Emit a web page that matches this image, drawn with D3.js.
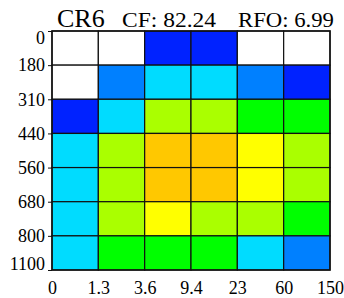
<!DOCTYPE html>
<meta charset="utf-8">
<style>
body { margin: 0; background: #fff; }
text { font-family: "Liberation Serif", "DejaVu Serif", serif; fill: #000; }
.cells rect { stroke: #111; stroke-width: 1.2px; }
</style>
<svg width="344" height="298"></svg>
<script src="https://cdn.jsdelivr.net/npm/d3@7"></script>
<script>

// optical thickness bins (x) and cloud-top pressure bins (y)
var tauLabels = ["0", "1.3", "3.6", "9.4", "23", "60", "150"];
var pcLabels = ["0", "180", "310", "440", "560", "680", "800", "1100"];

// cloud fraction (%) per bin, rows top to bottom
var row0 = [0.1, 0.1, 0.5, 0.5, 0.1, 0.1];
var row1 = [0.1, 1.5, 2.5, 2.5, 1.5, 0.5];
var row2 = [0.5, 2.5, 5.0, 5.0, 3.5, 3.5];
var row3 = [2.5, 5.0, 9.0, 9.0, 7.0, 5.0];
var row4 = [2.5, 5.0, 9.0, 9.0, 7.0, 5.0];
var row5 = [2.5, 5.0, 7.0, 5.0, 5.0, 3.5];
var row6 = [2.5, 3.5, 3.5, 3.5, 2.5, 1.5];
var rows = [row0, row1, row2, row3, row4, row5, row6];

var levels = [0.2, 1, 2, 3, 4, 6, 8];
var colours = ["#ffffff", "#0022ff", "#0080ff", "#00dcff", "#00ff00", "#aaff00", "#ffff00", "#ffc800"];

var svg = d3.select("svg");
var mLeft = 52, mRight = 330, mTop = 31, mBottom = 270;

var x = d3.scaleLinear().domain([0, tauLabels.length - 1]).range([mLeft, mRight]);
var y = d3.scaleLinear().domain([0, pcLabels.length - 1]).range([mTop, mBottom]);
var color = d3.scaleThreshold().domain(levels).range(colours);

var cells = [];
rows.forEach(function(r, i) {
  r.forEach(function(v, j) { cells.push({i: i, j: j, v: v}); });
});

svg.append("g").attr("class", "cells")
  .selectAll("rect")
  .data(cells)
  .enter().append("rect")
    .attr("x", function(d) { return x(d.j); })
    .attr("y", function(d) { return y(d.i); })
    .attr("width", function(d) { return x(d.j + 1) - x(d.j); })
    .attr("height", function(d) { return y(d.i + 1) - y(d.i); })
    .attr("fill", function(d) { return color(d.v); });

svg.append("rect")
    .attr("x", mLeft).attr("y", mTop)
    .attr("width", mRight - mLeft).attr("height", mBottom - mTop)
    .attr("fill", "none").attr("stroke", "#111").attr("stroke-width", 1.5);

// y axis
var yAxis = svg.append("g")
    .attr("transform", "translate(" + mLeft + ",0)")
    .call(d3.axisLeft(y).tickValues(d3.range(pcLabels.length))
      .tickFormat(function(d) { return pcLabels[d]; })
      .tickSize(4).tickPadding(3));
yAxis.select(".domain").remove();
yAxis.selectAll("line").attr("stroke", "#111");
yAxis.selectAll("text")
    .attr("font-size", 18)
    .attr("font-family", "Liberation Serif")
    .attr("dy", function(d) {
      if (d == 0) return "0.68em";
      if (d == pcLabels.length - 1) return "-0.02em";
      return "0.32em";
    });

// x axis
var xAxis = svg.append("g")
    .attr("transform", "translate(0," + mBottom + ")")
    .call(d3.axisBottom(x).tickValues(d3.range(tauLabels.length))
      .tickFormat(function(d) { return tauLabels[d]; })
      .tickSize(0).tickPadding(11));
xAxis.select(".domain").remove();
xAxis.selectAll("text")
    .attr("font-size", 18)
    .attr("font-family", "Liberation Serif");

// title
svg.append("text").attr("x", 57).attr("y", 27)
    .attr("font-size", 26).text("CR6");
svg.append("text").attr("x", 122).attr("y", 27)
    .attr("font-size", 22)
    .attr("textLength", 94).attr("lengthAdjust", "spacingAndGlyphs")
    .text("CF: 82.24");
svg.append("text").attr("x", 238).attr("y", 27)
    .attr("font-size", 22)
    .attr("textLength", 96).attr("lengthAdjust", "spacingAndGlyphs")
    .text("RFO: 6.99");

</script>
